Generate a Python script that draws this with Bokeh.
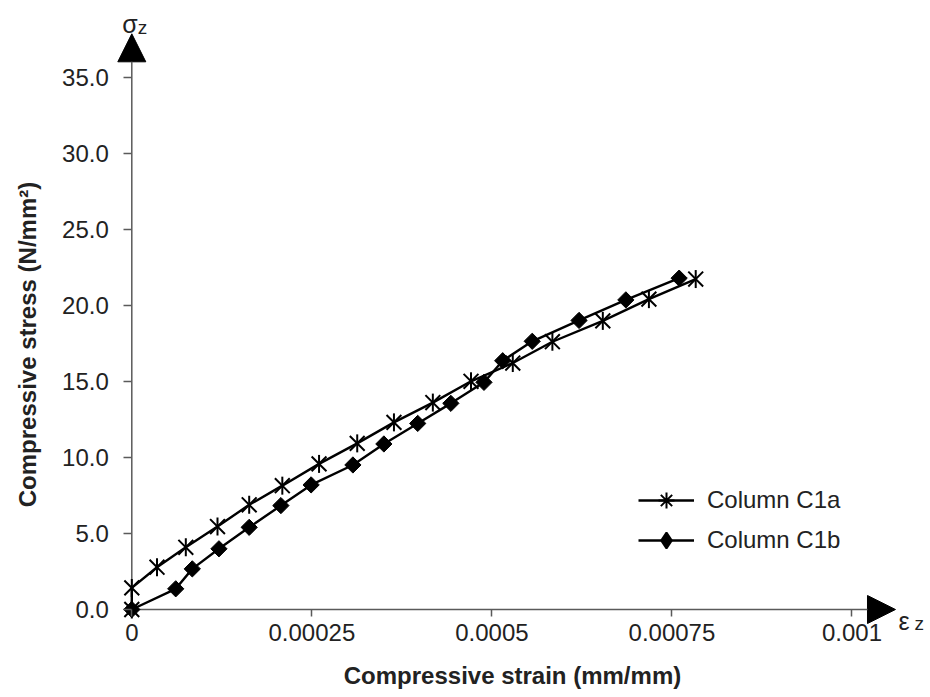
import math
from bokeh.plotting import figure
from bokeh.models import (Range1d, FixedTicker, CustomJSTickFormatter, Arrow, NormalHead,
                          Label, Legend, LegendItem)
from bokeh.embed import file_html
from bokeh.resources import INLINE

# ---- data ----
strain_c1a = [0.0, 0.0, 0.000035, 0.000075, 0.000119, 0.000163, 0.000209, 0.000260, 0.000313,
              0.000364, 0.000418, 0.000471, 0.000529, 0.000584, 0.000654, 0.000718, 0.000783]
stress_c1a = [0.0, 1.42, 2.78, 4.09, 5.45, 6.88, 8.14, 9.57, 10.92,
              12.30, 13.60, 15.00, 16.20, 17.60, 18.97, 20.40, 21.72]
strain_c1b = [0.0, 0.000061, 0.000084, 0.000121, 0.000163, 0.000207, 0.000249, 0.000307, 0.000350,
              0.000397, 0.000443, 0.000489, 0.000515, 0.000556, 0.000621, 0.000686, 0.000760]
stress_c1b = [0.0, 1.36, 2.67, 3.99, 5.40, 6.83, 8.19, 9.50, 10.88,
              12.23, 13.55, 14.93, 16.35, 17.63, 19.00, 20.35, 21.78]

x_ticks = [0.0, 0.00025, 0.0005, 0.00075, 0.001]
x_tick_labels = ["0", "0.00025", "0.0005", "0.00075", "0.001"]
y_ticks = [0, 5, 10, 15, 20, 25, 30, 35]
y_tick_labels = ["0.0", "5.0", "10.0", "15.0", "20.0", "25.0", "30.0", "35.0"]

series_names = ["Column C1a", "Column C1b"]
x_title = "Compressive strain (mm/mm)"
y_title = "Compressive stress (N/mm\u00b2)"

# ---- layout (data-unit extents of the canvas and of the axis arrows) ----
X_START, X_END = -0.00018231, 0.0011090
Y_START, Y_END = -5.784, 40.029
X_ARROW, Y_ARROW = 0.0010604, 37.84
X_BOUNDS = (0.0, 0.001058)
Y_BOUNDS = (-1.0, 35.84)

FONT = "Liberation Sans"
TEXT = "#222222"
AXIS = "#5a5a5a"

p = figure(width=930, height=697, output_backend="svg", toolbar_location=None,
           x_range=Range1d(X_START, X_END), y_range=Range1d(Y_START, Y_END),
           min_border=0, min_border_left=0, min_border_right=0,
           min_border_top=0, min_border_bottom=0)
p.outline_line_color = None
p.grid.visible = False

xa = p.xaxis[0]
xa.fixed_location = 0
xa.bounds = X_BOUNDS
xa.ticker = FixedTicker(ticks=x_ticks)
xa.formatter = CustomJSTickFormatter(args=dict(labels=x_tick_labels), code="return labels[index];")
xa.axis_line_color = None
xa.major_tick_line_color = AXIS
xa.major_tick_line_width = 1.5
xa.major_tick_in = 0
xa.major_tick_out = 7
xa.minor_tick_line_color = None
xa.major_label_text_font = FONT
xa.major_label_text_font_size = "24px"
xa.major_label_text_color = TEXT
xa.major_label_standoff = 7
xa.axis_label = x_title
xa.axis_label_text_font = FONT
xa.axis_label_text_font_size = "24px"
xa.axis_label_text_font_style = "bold"
xa.axis_label_text_color = TEXT
xa.axis_label_standoff = 18

ya = p.yaxis[0]
ya.fixed_location = 0
ya.bounds = Y_BOUNDS
ya.ticker = FixedTicker(ticks=y_ticks)
ya.formatter = CustomJSTickFormatter(args=dict(labels=y_tick_labels), code="return labels[index];")
ya.axis_line_color = None
ya.major_tick_line_color = AXIS
ya.major_tick_line_width = 1.5
ya.major_tick_in = 0
ya.major_tick_out = 8
ya.minor_tick_line_color = None
ya.major_label_text_font = FONT
ya.major_label_text_font_size = "24px"
ya.major_label_text_color = TEXT
ya.major_label_standoff = 15
ya.axis_label = y_title
ya.axis_label_text_font = FONT
ya.axis_label_text_font_size = "24px"
ya.axis_label_text_font_style = "bold"
ya.axis_label_text_color = TEXT
ya.axis_label_standoff = 18

# axes lines with arrow heads
p.add_layout(Arrow(end=NormalHead(size=28, fill_color="black", line_color="black"),
                   x_start=0, y_start=0, x_end=X_ARROW, y_end=0,
                   line_color=AXIS, line_width=1.5, level="underlay"))
p.add_layout(Arrow(end=NormalHead(size=28, fill_color="black", line_color="black"),
                   x_start=0, y_start=0, x_end=0, y_end=Y_ARROW,
                   line_color=AXIS, line_width=1.5, level="underlay"))

# series
l1 = p.line(strain_c1a, stress_c1a, line_color="black", line_width=2.4)
p.scatter(strain_c1a, stress_c1a, marker="x", size=21, line_color="black", line_width=2)
p.scatter(strain_c1a, stress_c1a, marker="dash", angle=math.pi / 2, size=18,
          line_color="black", line_width=2)
l2 = p.line(strain_c1b, stress_c1b, line_color="black", line_width=2.4)
p.scatter(strain_c1b, stress_c1b, marker="square", angle=math.pi / 4, size=11.5,
          fill_color="black", line_color="black", line_width=1)

# legend-only marker renderers (hidden in the plot, drawn in the legend)
lg1 = p.scatter(strain_c1a[:1], stress_c1a[:1], marker="asterisk",
                line_color="black", line_width=2, visible=False)
lg2 = p.scatter(strain_c1b[:1], stress_c1b[:1], marker="diamond",
                fill_color="black", line_color="black", line_width=2, visible=False)

legend = Legend(items=[LegendItem(label=series_names[0], renderers=[l1, lg1]),
                       LegendItem(label=series_names[1], renderers=[l2, lg2])],
                location=(638, 137), glyph_width=56, glyph_height=40, label_height=27,
                spacing=-1, padding=0, margin=0, label_standoff=13,
                border_line_alpha=0, background_fill_alpha=0,
                label_text_font=FONT, label_text_font_size="24px", label_text_color=TEXT)
p.add_layout(legend)

# axis symbols
p.add_layout(Label(x=0, y=Y_ARROW, text="\u03c3", x_offset=6, y_offset=10, text_align="right",
                   text_baseline="alphabetic", text_font=FONT, text_font_size="25px", text_color=TEXT))
p.add_layout(Label(x=0, y=Y_ARROW, text="z", x_offset=6, y_offset=6, text_align="left",
                   text_baseline="alphabetic", text_font=FONT, text_font_size="19px", text_color=TEXT))
p.add_layout(Label(x=X_ARROW, y=0, text="\u03b5", x_offset=3, y_offset=-11, text_align="left",
                   text_baseline="alphabetic", text_font=FONT, text_font_size="25px", text_color=TEXT))
p.add_layout(Label(x=X_ARROW, y=0, text="z", x_offset=19, y_offset=-14, text_align="left",
                   text_baseline="alphabetic", text_font=FONT, text_font_size="19px", text_color=TEXT))

open("out.html", "w").write(file_html(p, INLINE))
